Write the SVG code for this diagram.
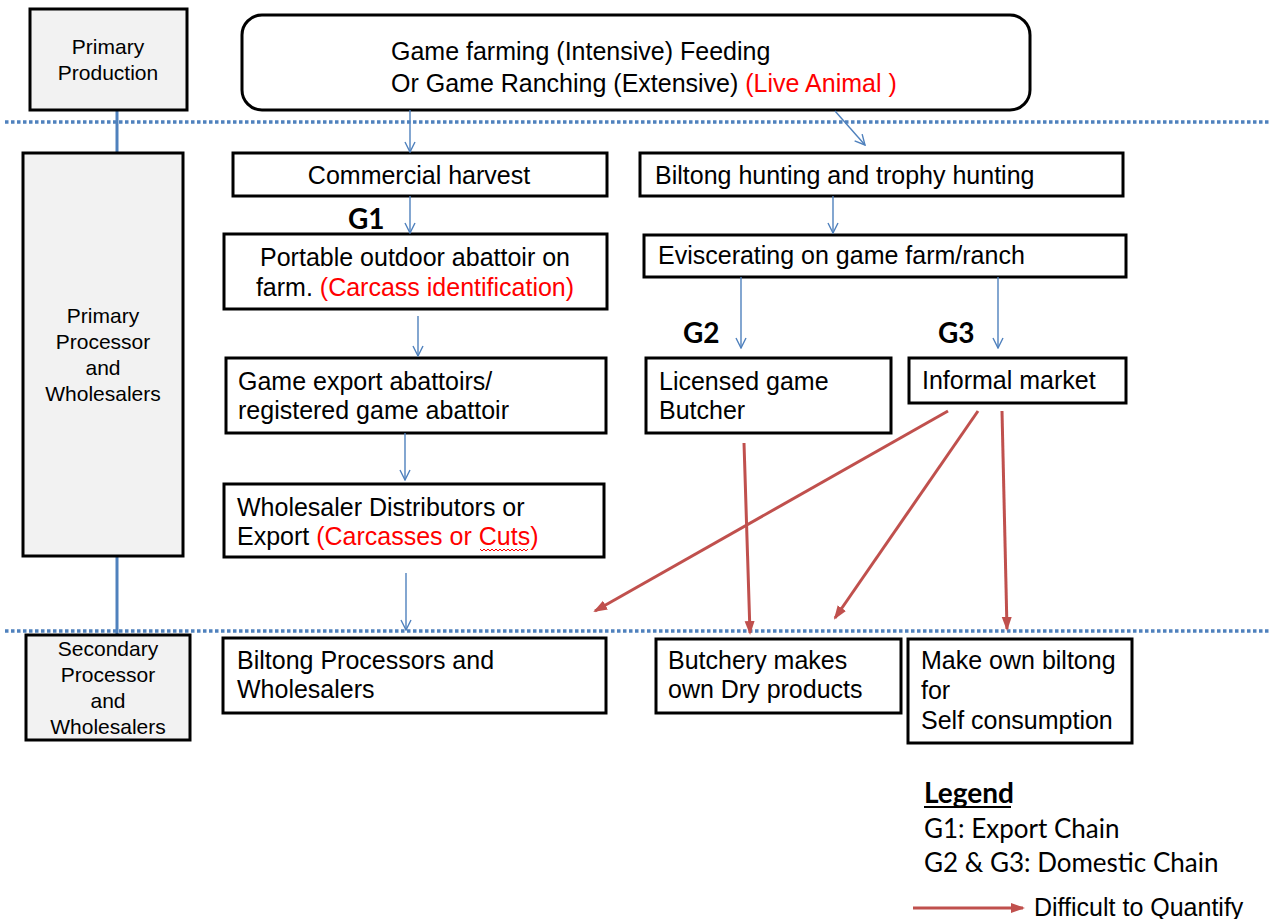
<svg xmlns="http://www.w3.org/2000/svg" width="1269" height="919" viewBox="0 0 1269 919">
<defs>
<style>
.box{fill:#fff;stroke:#000;stroke-width:3}
.side{fill:#f2f2f2;stroke:#000;stroke-width:3}
.t{font-family:"Liberation Sans",Arial,sans-serif;font-size:25px;fill:#000}
.s{font-family:"Liberation Sans",Arial,sans-serif;font-size:21px;fill:#000;text-anchor:middle}
.r{fill:#ff0000}
.g{font-family:Lato,"Open Sans",sans-serif;font-weight:bold;font-size:28px;fill:#000}
.lg{font-family:Lato,"Open Sans",sans-serif;font-size:26px;fill:#000}
.blue{stroke:#4f81bd;stroke-width:1.4;fill:none;marker-end:url(#ba)}
.red{stroke:#c0504d;stroke-width:3;fill:none;marker-end:url(#ra)}
.dot{stroke:#4f81bd;stroke-width:3.5;stroke-dasharray:3.5 2.5;fill:none}
.vl{stroke:#4f81bd;stroke-width:3;fill:none}
</style>
<marker id="ba" viewBox="0 0 12 12" refX="11" refY="6" markerWidth="12" markerHeight="12" markerUnits="userSpaceOnUse" orient="auto">
<path d="M1,1 L11,6 L1,11" fill="none" stroke="#4f81bd" stroke-width="1.4"/>
</marker>
<marker id="ra" viewBox="0 0 14 12" refX="12" refY="6" markerWidth="14" markerHeight="12" markerUnits="userSpaceOnUse" orient="auto">
<path d="M0,1 L14,6 L0,11 Z" fill="#c0504d"/>
</marker>
</defs>
<g id="bands">
<line class="dot" x1="5" y1="122" x2="1269" y2="122"/>
<line class="dot" x1="5" y1="631" x2="1269" y2="631"/>
<line class="vl" x1="117" y1="110" x2="117" y2="153"/>
<line class="vl" x1="117" y1="556" x2="117" y2="635"/>
</g>
<g id="primary-production">
<rect class="side" x="30" y="9" width="157" height="101"/>
<text class="s" x="108" y="54">Primary</text>
<text class="s" x="108" y="80">Production</text>
</g>
<g id="primary-processor">
<rect class="side" x="23" y="153" width="160" height="403"/>
<text class="s" x="103" y="323">Primary</text>
<text class="s" x="103" y="349">Processor</text>
<text class="s" x="103" y="375">and</text>
<text class="s" x="103" y="401">Wholesalers</text>
</g>
<g id="secondary-processor">
<rect class="side" x="26" y="635" width="164" height="105"/>
<text class="s" x="108" y="656">Secondary</text>
<text class="s" x="108" y="682">Processor</text>
<text class="s" x="108" y="708">and</text>
<text class="s" x="108" y="734">Wholesalers</text>
</g>
<g id="game-farming">
<rect class="box" x="242" y="15" width="788" height="95" rx="20"/>
<text class="t" x="391" y="60">Game farming (Intensive) Feeding</text>
<text class="t" x="391" y="92">Or Game Ranching (Extensive) <tspan class="r">(Live Animal )</tspan></text>
</g>
<g id="commercial-harvest">
<rect class="box" x="233" y="153" width="374" height="43"/>
<text class="t" x="419" y="184" text-anchor="middle">Commercial harvest</text>
</g>
<g id="biltong-hunting">
<rect class="box" x="640" y="153" width="483" height="43"/>
<text class="t" x="655" y="184">Biltong hunting and trophy hunting</text>
</g>
<g id="portable-abattoir">
<rect class="box" x="224" y="234" width="383" height="75"/>
<text class="t" x="415" y="266" text-anchor="middle">Portable outdoor abattoir on</text>
<text class="t" x="415" y="296" text-anchor="middle">farm. <tspan class="r">(Carcass identification)</tspan></text>
</g>
<g id="eviscerating">
<rect class="box" x="644" y="235" width="482" height="42"/>
<text class="t" x="658" y="264">Eviscerating on game farm/ranch</text>
</g>
<g id="game-export-abattoir">
<rect class="box" x="226" y="358" width="380" height="75"/>
<text class="t" x="238" y="390">Game export abattoirs/</text>
<text class="t" x="238" y="419">registered game abattoir</text>
</g>
<g id="licensed-butcher">
<rect class="box" x="646" y="358" width="245" height="75"/>
<text class="t" x="659" y="390">Licensed game</text>
<text class="t" x="659" y="419">Butcher</text>
</g>
<g id="informal-market">
<rect class="box" x="909" y="358" width="217" height="45"/>
<text class="t" x="922" y="389">Informal market</text>
</g>
<g id="wholesaler">
<rect class="box" x="224" y="484" width="380" height="73"/>
<text class="t" x="237" y="516">Wholesaler Distributors or</text>
<text class="t" x="237" y="545">Export <tspan class="r">(Carcasses or Cuts)</tspan></text>
<path d="M480,549 l2,2 l2,-2 l2,2 l2,-2 l2,2 l2,-2 l2,2 l2,-2 l2,2 l2,-2 l2,2 l2,-2 l2,2 l2,-2 l2,2 l2,-2 l2,2 l2,-2 l2,2 l2,-2 l2,2 l2,-2 l2,2 l2,-2" fill="none" stroke="#ff0000" stroke-width="1"/>
</g>
<g id="biltong-processors">
<rect class="box" x="223" y="638" width="383" height="75"/>
<text class="t" x="237" y="669">Biltong Processors and</text>
<text class="t" x="237" y="698">Wholesalers</text>
</g>
<g id="butchery-dry">
<rect class="box" x="656" y="639" width="245" height="74"/>
<text class="t" x="668" y="669">Butchery makes</text>
<text class="t" x="668" y="698">own Dry products</text>
</g>
<g id="self-consumption">
<rect class="box" x="908" y="639" width="224" height="104"/>
<text class="t" x="921" y="669">Make own biltong</text>
<text class="t" x="921" y="699">for</text>
<text class="t" x="921" y="729">Self consumption</text>
</g>
<g id="chain-labels">
<text class="g" x="348" y="229">G1</text>
<text class="g" x="683" y="343">G2</text>
<text class="g" x="938" y="343">G3</text>
</g>
<g id="connectors">
<line class="blue" x1="410" y1="110" x2="410" y2="152"/>
<line class="blue" x1="835" y1="111" x2="865" y2="145"/>
<line class="blue" x1="410" y1="196" x2="410" y2="233"/>
<line class="blue" x1="418" y1="316" x2="418" y2="356"/>
<line class="blue" x1="405" y1="433" x2="405" y2="480"/>
<line class="blue" x1="406" y1="573" x2="406" y2="630"/>
<line class="blue" x1="833" y1="196" x2="833" y2="233"/>
<line class="blue" x1="741" y1="277" x2="741" y2="348"/>
<line class="blue" x1="998" y1="277" x2="998" y2="348"/>
<line class="red" x1="948" y1="411" x2="595" y2="611"/>
<line class="red" x1="978" y1="411" x2="835" y2="618"/>
<line class="red" x1="1002" y1="411" x2="1007" y2="629"/>
<line class="red" x1="744" y1="443" x2="750" y2="633"/>
</g>
<g id="legend">
<text class="g" x="924" y="803" font-size="27">Legend</text>
<line x1="924" y1="807" x2="1011" y2="807" stroke="#000" stroke-width="2"/>
<text class="lg" x="924" y="838">G1: Export Chain</text>
<text class="lg" x="924" y="872">G2 &amp; G3: Domestic Chain</text>
<line class="red" x1="913" y1="908" x2="1023" y2="908"/>
<text class="t" x="1034" y="916" font-size="23.5">Difficult to Quantify</text>
</g>
</svg>
